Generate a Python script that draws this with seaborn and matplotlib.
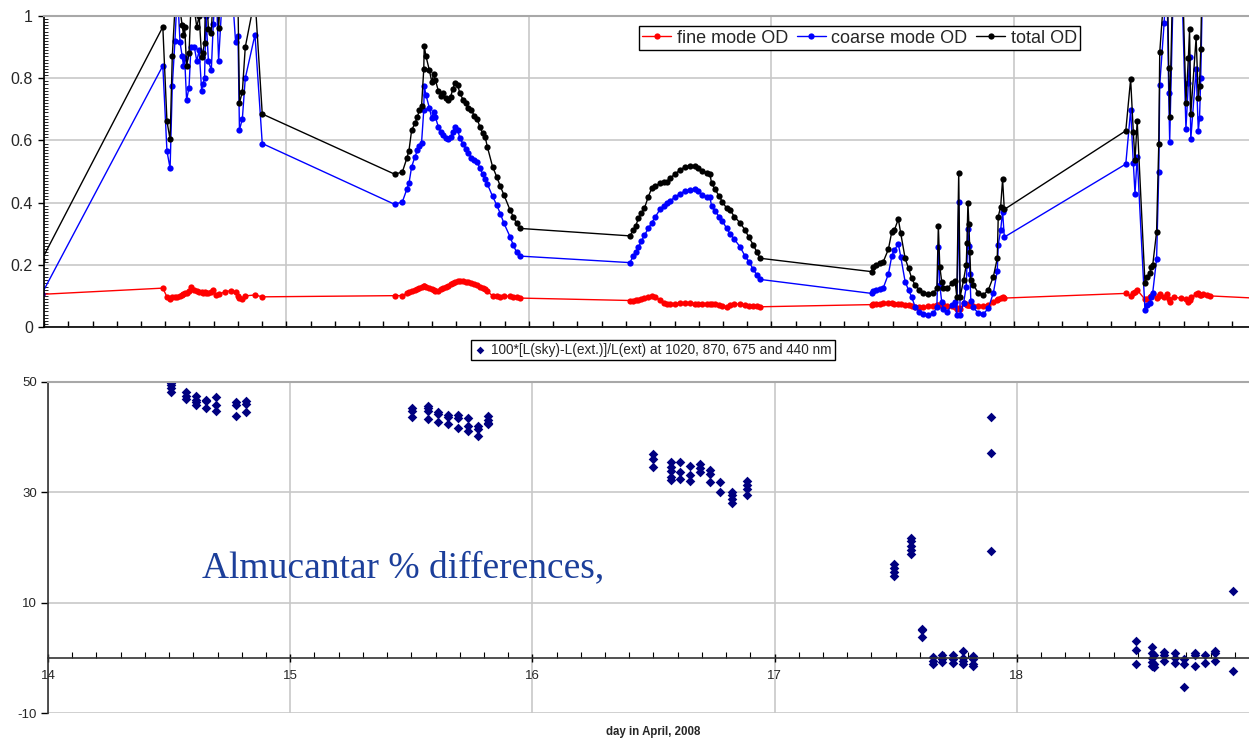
import numpy as np
import pandas as pd
import seaborn as sns
import matplotlib.pyplot as plt
from matplotlib.ticker import MultipleLocator

# ---- optical depth, top panel (day in April 2008, value) ----
# points just outside the x range, so the lines run to the edges
t_edge = [13.99, 19.2]
fine_edge = [0.105, 0.085]
coarse_edge = [0.105, 1.5]
total_edge = [0.215, 1.6]

t_a = [14.490, 14.507, 14.520, 14.529, 14.540, 14.550, 14.561, 14.570, 14.575, 14.580,
       14.588, 14.598, 14.606, 14.620, 14.630, 14.640, 14.650, 14.655, 14.662, 14.668,
       14.678, 14.690, 14.698, 14.710, 14.720, 14.745, 14.770, 14.790, 14.800, 14.806,
       14.818, 14.830, 14.870, 14.900]
fine_a = [0.125, 0.097, 0.090, 0.095, 0.097, 0.097, 0.100, 0.103, 0.105, 0.108,
          0.110, 0.115, 0.128, 0.120, 0.115, 0.113, 0.113, 0.110, 0.113, 0.110,
          0.108, 0.113, 0.118, 0.103, 0.105, 0.113, 0.117, 0.113, 0.100, 0.092,
          0.089, 0.100, 0.103, 0.097]
coarse_a = [0.84, 0.566, 0.51, 0.775, 0.92, 1.08, 0.915, 0.87, 0.84, 0.865,
            0.73, 0.77, 0.90, 0.90, 0.855, 0.89, 0.76, 0.78, 0.80, 1.00,
            0.855, 0.826, 0.975, 1.10, 0.855, 1.20, 1.15, 0.917, 0.937, 0.633,
            0.67, 0.80, 0.94, 0.59]
total_a = [0.965, 0.662, 0.603, 0.870, 1.02, 1.18, 1.02, 0.97, 0.94, 0.965,
           0.84, 0.88, 1.03, 1.02, 0.965, 1.00, 0.867, 0.882, 0.914, 1.11,
           0.957, 0.944, 1.09, 1.20, 0.96, 1.31, 1.27, 1.03, 1.04, 0.72,
           0.757, 0.90, 1.06, 0.685]

t_b = [15.447, 15.478, 15.496, 15.505, 15.516, 15.530, 15.540, 15.548, 15.557, 15.566,
       15.568, 15.575, 15.589, 15.599, 15.607, 15.614, 15.626, 15.637, 15.647, 15.656,
       15.667, 15.677, 15.686, 15.695, 15.706, 15.715, 15.729, 15.740, 15.750, 15.762,
       15.775, 15.787, 15.797, 15.809, 15.819, 15.828, 15.850, 15.867, 15.882, 15.897,
       15.922, 15.935, 15.949, 15.963]
fine_b = [0.101, 0.101, 0.108, 0.112, 0.116, 0.118, 0.121, 0.125, 0.130, 0.132,
          0.131, 0.129, 0.124, 0.121, 0.119, 0.117, 0.116, 0.121, 0.126, 0.130,
          0.133, 0.137, 0.141, 0.146, 0.149, 0.148, 0.147, 0.146, 0.144, 0.142,
          0.139, 0.135, 0.130, 0.126, 0.121, 0.115, 0.100, 0.099, 0.098, 0.100,
          0.099, 0.097, 0.095, 0.093]
coarse_b = [0.394, 0.403, 0.443, 0.462, 0.515, 0.548, 0.568, 0.582, 0.593, 0.697,
            0.775, 0.746, 0.705, 0.671, 0.692, 0.675, 0.644, 0.626, 0.617, 0.607,
            0.603, 0.612, 0.628, 0.644, 0.633, 0.607, 0.588, 0.573, 0.561, 0.545,
            0.538, 0.530, 0.511, 0.492, 0.475, 0.460, 0.420, 0.392, 0.364, 0.333,
            0.290, 0.264, 0.240, 0.228]
total_b = [0.491, 0.499, 0.542, 0.567, 0.633, 0.655, 0.676, 0.698, 0.711, 0.829,
           0.904, 0.871, 0.826, 0.789, 0.812, 0.794, 0.760, 0.744, 0.751, 0.735,
           0.730, 0.741, 0.765, 0.786, 0.778, 0.751, 0.730, 0.719, 0.703, 0.698,
           0.678, 0.668, 0.644, 0.623, 0.612, 0.580, 0.515, 0.483, 0.452, 0.424,
           0.376, 0.355, 0.333, 0.317]

t_c = [16.416, 16.430, 16.440, 16.451, 16.463, 16.476, 16.492, 16.506, 16.520, 16.540,
       16.555, 16.568, 16.581, 16.602, 16.623, 16.643, 16.664, 16.684, 16.698, 16.715,
       16.733, 16.746, 16.753, 16.767, 16.784, 16.797, 16.815, 16.829, 16.847, 16.870,
       16.891, 16.907, 16.925, 16.939, 16.953]
fine_c = [0.085, 0.085, 0.086, 0.086, 0.089, 0.092, 0.097, 0.100, 0.095, 0.088,
          0.078, 0.074, 0.074, 0.075, 0.076, 0.078, 0.077, 0.075, 0.074, 0.075,
          0.075, 0.075, 0.074, 0.074, 0.070, 0.066, 0.065, 0.070, 0.074, 0.074,
          0.070, 0.067, 0.067, 0.066, 0.065]
coarse_c = [0.207, 0.228, 0.240, 0.257, 0.276, 0.295, 0.317, 0.335, 0.353, 0.378,
            0.389, 0.398, 0.406, 0.417, 0.429, 0.437, 0.441, 0.443, 0.438, 0.424,
            0.419, 0.417, 0.389, 0.373, 0.355, 0.342, 0.317, 0.300, 0.282, 0.258,
            0.228, 0.210, 0.185, 0.168, 0.153]
total_c = [0.293, 0.312, 0.325, 0.349, 0.366, 0.382, 0.419, 0.446, 0.453, 0.462,
           0.465, 0.467, 0.478, 0.492, 0.505, 0.515, 0.518, 0.519, 0.510, 0.503,
           0.496, 0.492, 0.462, 0.443, 0.421, 0.403, 0.382, 0.376, 0.355, 0.335,
           0.312, 0.288, 0.264, 0.242, 0.221]

t_d = [17.413, 17.420, 17.431, 17.448, 17.461, 17.482, 17.496, 17.507, 17.523, 17.533,
       17.551, 17.565, 17.578, 17.592, 17.610, 17.626, 17.647, 17.668, 17.682, 17.688,
       17.694, 17.702, 17.709, 17.725, 17.744, 17.757, 17.764, 17.772, 17.778, 17.792,
       17.803, 17.806, 17.810, 17.814, 17.818, 17.822, 17.832, 17.853, 17.874, 17.894,
       17.915, 17.931, 17.935, 17.945, 17.953, 17.960]
fine_d = [0.072, 0.073, 0.074, 0.075, 0.076, 0.076, 0.076, 0.075, 0.075, 0.074,
          0.072, 0.070, 0.067, 0.065, 0.063, 0.064, 0.066, 0.068, 0.070, 0.072,
          0.072, 0.071, 0.070, 0.069, 0.067, 0.064, 0.058, 0.060, 0.058, 0.076,
          0.073, 0.072, 0.072, 0.071, 0.071, 0.070, 0.069, 0.067, 0.069, 0.072,
          0.080, 0.088, 0.090, 0.092, 0.095, 0.093]
coarse_d = [0.108, 0.115, 0.118, 0.122, 0.126, 0.170, 0.228, 0.248, 0.267, 0.226,
            0.146, 0.119, 0.097, 0.065, 0.048, 0.042, 0.039, 0.044, 0.065, 0.256,
            0.135, 0.080, 0.057, 0.049, 0.071, 0.081, 0.039, 0.403, 0.039, 0.076,
            0.130, 0.200, 0.314, 0.260, 0.170, 0.085, 0.063, 0.044, 0.042, 0.060,
            0.110, 0.180, 0.264, 0.312, 0.371, 0.289]
total_d = [0.178, 0.192, 0.199, 0.207, 0.210, 0.250, 0.306, 0.312, 0.347, 0.301,
           0.221, 0.189, 0.157, 0.135, 0.119, 0.108, 0.106, 0.110, 0.124, 0.325,
           0.194, 0.146, 0.125, 0.124, 0.140, 0.149, 0.097, 0.496, 0.097, 0.151,
           0.199, 0.270, 0.400, 0.330, 0.240, 0.150, 0.135, 0.110, 0.103, 0.119,
           0.162, 0.221, 0.355, 0.387, 0.475, 0.378]

t_e = [18.461, 18.481, 18.492, 18.499, 18.508, 18.540, 18.550, 18.561, 18.565, 18.572,
       18.588, 18.597, 18.601, 18.619, 18.630, 18.638, 18.642, 18.660, 18.687, 18.709,
       18.719, 18.724, 18.729, 18.751, 18.760, 18.765, 18.770, 18.780, 18.795, 18.808]
fine_e = [0.108, 0.100, 0.110, 0.112, 0.119, 0.089, 0.091, 0.097, 0.100, 0.105,
          0.093, 0.100, 0.105, 0.097, 0.105, 0.090, 0.081, 0.097, 0.092, 0.089,
          0.081, 0.088, 0.095, 0.105, 0.110, 0.104, 0.102, 0.105, 0.103, 0.100]
coarse_e = [0.524, 0.698, 0.528, 0.428, 0.548, 0.055, 0.071, 0.076, 0.097, 0.110,
            0.219, 0.499, 0.778, 0.976, 1.15, 0.751, 0.596, 1.20, 1.25, 0.637,
            0.783, 0.869, 0.603, 0.830, 0.630, 0.671, 0.800, 1.20, 1.30, 1.30]
total_e = [0.631, 0.797, 0.626, 0.537, 0.663, 0.142, 0.160, 0.175, 0.194, 0.199,
           0.306, 0.588, 0.883, 1.08, 1.25, 0.834, 0.676, 1.30, 1.35, 0.721,
           0.864, 0.958, 0.684, 0.931, 0.737, 0.775, 0.893, 1.30, 1.40, 1.40]

# ---- almucantar % differences, bottom panel: scan time and the values of that scan ----
alm_t = [14.507, 14.568, 14.611, 14.652, 14.693, 14.776, 14.818,
         15.502, 15.570, 15.611, 15.653, 15.694, 15.735, 15.777, 15.818,
         16.499, 16.571, 16.609, 16.651, 16.692, 16.733, 16.775, 16.823, 16.887,
         17.494, 17.563, 17.610, 17.653, 17.693, 17.735, 17.776, 17.820, 17.892,
         18.491, 18.557, 18.566, 18.609, 18.653, 18.692, 18.735, 18.777, 18.818, 18.894]
alm_v = [[49.8, 49.4, 48.9, 48.2], [48.1, 47.4, 46.9], [47.4, 46.8, 46.4, 45.8],
         [46.8, 46.5, 45.3], [47.2, 45.8, 44.7], [46.4, 45.8, 43.9], [46.5, 46.0, 44.5],
         [45.3, 44.8, 43.6], [45.6, 45.2, 44.7, 43.3], [44.6, 44.2, 42.8], [44.1, 43.6, 42.3],
         [44.0, 43.4, 41.7], [43.4, 42.1, 41.1], [42.0, 41.4, 40.3], [43.8, 43.2, 42.6, 42.3],
         [37.0, 36.0, 34.6], [35.5, 34.6, 33.9, 32.8, 32.2], [35.5, 33.6, 32.5],
         [34.8, 33.2, 32.1], [35.1, 34.5, 33.6], [34.0, 33.3, 31.9], [31.9, 30.1],
         [30.1, 29.5, 28.8, 28.1], [32.1, 31.3, 30.6, 29.5],
         [17.0, 16.3, 15.5, 14.8], [21.8, 21.1, 20.3, 19.6, 18.9], [5.3, 5.0, 3.8],
         [0.1, -0.5, -1.2], [0.6, -0.2, -0.8], [0.5, -0.3, -0.9], [1.2, 0.0, -0.5, -1.1],
         [0.3, -0.2, -1.1, -1.4], [43.6, 37.2, 19.4],
         [3.0, 1.4, -1.1], [2.0, 0.8, -0.1, -0.8, -1.4], [0.5, -1.1, -1.7], [1.0, 0.5, -0.5],
         [0.8, -0.1, -0.9], [-0.3, -1.1, -5.3], [0.9, 0.5, -1.4], [0.5, -0.9],
         [1.2, 0.9, -0.5], [12.2, -2.4]]

od = pd.DataFrame({
    'day': np.concatenate([t_edge[:1], t_a, t_b, t_c, t_d, t_e, t_edge[1:]]),
    'fine': np.concatenate([fine_edge[:1], fine_a, fine_b, fine_c, fine_d, fine_e, fine_edge[1:]]),
    'coarse': np.concatenate([coarse_edge[:1], coarse_a, coarse_b, coarse_c, coarse_d, coarse_e, coarse_edge[1:]]),
    'total': np.concatenate([total_edge[:1], total_a, total_b, total_c, total_d, total_e, total_edge[1:]]),
})

alm = pd.DataFrame([(t, v) for t, vals in zip(alm_t, alm_v) for v in vals], columns=['day', 'diff'])

sns.set_theme(style="white")
plt.rcParams['font.family'] = ['Liberation Sans', 'DejaVu Sans']
plt.rcParams['axes.unicode_minus'] = False

W, H = 1249, 739
fig = plt.figure(figsize=(W / 100, H / 100), dpi=100)
ax1 = fig.add_axes([44 / W, 1 - 327 / H, (W - 44) / W, 311 / H])
ax2 = fig.add_axes([48 / W, 1 - 713 / H, (W - 48) / W, 331 / H])

grid_col = '#c8c8c8'

# top panel: optical depth
series = [('fine', '#ff0000', 'fine mode OD'),
          ('coarse', '#0000ff', 'coarse mode OD'),
          ('total', '#000000', 'total OD')]
for col, c, lab in series:
    sns.lineplot(data=od, x='day', y=col, ax=ax1, color=c, lw=1, marker='o',
                 markersize=4.5, markeredgewidth=0, sort=False, estimator=None, label=lab)

ax1.set_xlim(14, 14 + (W - 44) / 242.5)
ax1.set_ylim(0, 1)
ax1.set_yticks([0, 0.2, 0.4, 0.6, 0.8, 1])
ax1.set_yticklabels(['0', '0.2', '0.4', '0.6', '0.8', '1'])
ax1.set_xticks([14, 15, 16, 17, 18])
ax1.xaxis.set_minor_locator(MultipleLocator(0.1))
ax1.yaxis.set_minor_locator(MultipleLocator(0.01))
ax1.tick_params(axis='x', which='both', direction='in', length=4, width=1,
                color='black', labelbottom=False, bottom=True)
ax1.tick_params(axis='y', which='major', direction='out', length=4, width=1,
                color='black', labelsize=11.5, pad=4, left=True)
ax1.tick_params(axis='y', which='minor', direction='in', length=3, width=0.6,
                color='black', left=True)
ax1.grid(True, which='major', color=grid_col, lw=1.2)
ax1.set_xlabel('')
ax1.set_ylabel('')
ax1.spines['left'].set_color('black')
ax1.spines['bottom'].set_color('black')
ax1.spines['left'].set_linewidth(1.2)
ax1.spines['bottom'].set_linewidth(1.2)
ax1.spines['top'].set_color('#a8a8a8')
ax1.spines['top'].set_linewidth(1.5)
ax1.spines['right'].set_visible(False)

leg1 = ax1.legend(loc='upper right', bbox_to_anchor=(0.86, 0.968), ncol=3, fontsize=13,
                  frameon=True, fancybox=False, edgecolor='black', framealpha=1,
                  handlelength=1.6, handletextpad=0.3, columnspacing=0.5,
                  borderpad=0.2, borderaxespad=0)
leg1.get_frame().set_linewidth(1.0)

# bottom panel: almucantar differences
sns.scatterplot(data=alm, x='day', y='diff', ax=ax2, marker='D', s=24, color='#000080',
                edgecolor='#000080', linewidth=0,
                label='100*[L(sky)-L(ext.)]/L(ext) at 1020, 870, 675 and 440 nm')

ax2.set_xlim(14, 14 + (W - 48) / 242.2)
ax2.set_ylim(-10, 50)
ax2.set_yticks([-10, 10, 30, 50])
ax2.set_xticks([14, 15, 16, 17, 18])
ax2.set_xticklabels(['14', '15', '16', '17', '18'])
ax2.xaxis.set_minor_locator(MultipleLocator(0.1))
ax2.spines['bottom'].set_position(('data', 0))
ax2.tick_params(axis='x', which='major', direction='inout', length=6, width=1,
                color='black', labelsize=9.5, pad=6, bottom=True)
ax2.tick_params(axis='x', which='minor', direction='in', length=4, width=0.8,
                color='black', bottom=True)
ax2.tick_params(axis='y', which='major', direction='out', length=5, width=1,
                color='black', labelsize=9.5, pad=3, left=True)
ax2.grid(True, which='major', color=grid_col, lw=1.2)
ax2.set_xlabel('')
ax2.set_ylabel('')
ax2.spines['left'].set_color('#333333')
ax2.spines['bottom'].set_color('#333333')
ax2.spines['left'].set_linewidth(1.2)
ax2.spines['bottom'].set_linewidth(1.2)
ax2.spines['top'].set_color('#a8a8a8')
ax2.spines['top'].set_linewidth(1.5)
ax2.spines['right'].set_visible(False)

leg2 = ax2.legend(loc='center', bbox_to_anchor=((653 - 48) / (W - 48), (713 - 350) / 331),
                  fontsize=9.8, frameon=True, fancybox=False, edgecolor='black', framealpha=1,
                  handlelength=0.8, handletextpad=0.4, borderpad=0.25, markerscale=0.8)
leg2.get_frame().set_linewidth(1.0)

ax2.text(14.636, 14.7, 'Almucantar % differences,', family=['Liberation Serif', 'DejaVu Serif'],
         size=27, color='#1c3f9a', va='baseline', ha='left')

fig.text(653 / W, 1 - 732 / H, 'day in April, 2008', ha='center', va='center',
         size=8.3, weight='bold')

fig.savefig('out.png', dpi=100)
